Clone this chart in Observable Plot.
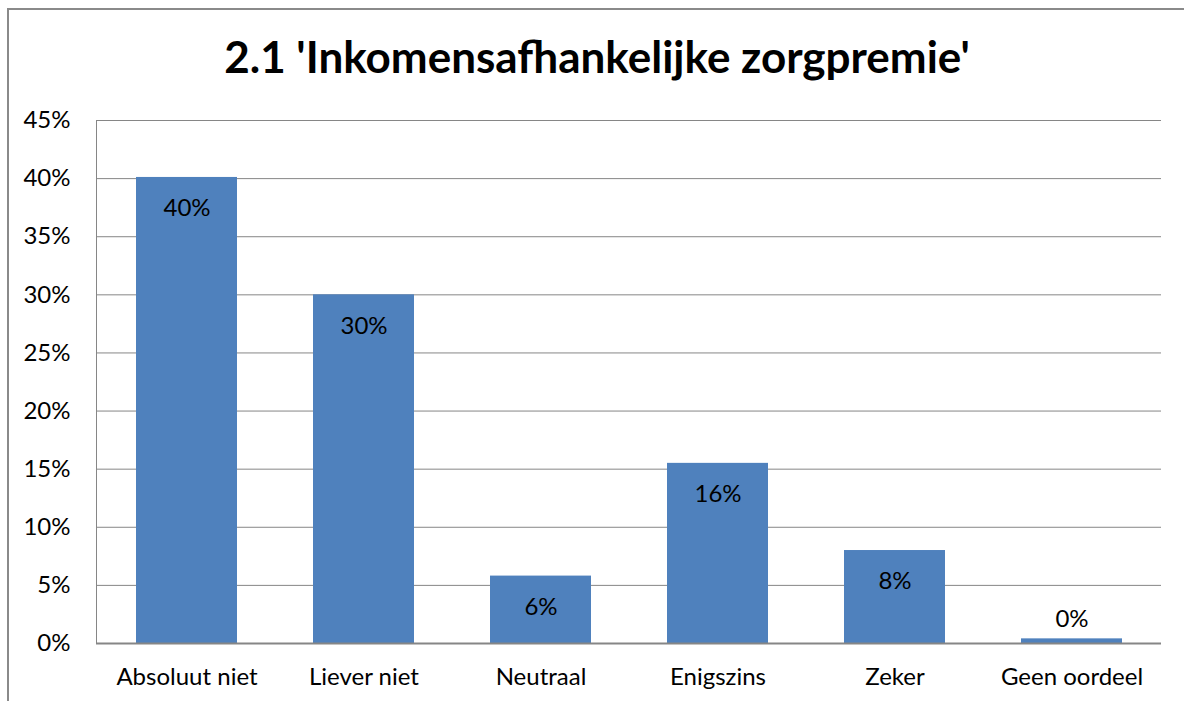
<!DOCTYPE html>
<html>
<head>
<meta charset="utf-8">
<script src="https://cdn.jsdelivr.net/npm/d3@7"></script>
<script src="https://cdn.jsdelivr.net/npm/@observablehq/plot@0.6"></script>
<style>
  html, body { margin: 0; padding: 0; background: #fff; overflow: hidden; width: 1184px; height: 701px; }
  #frame { position: absolute; left: 7px; top: 8px; width: 1200px; height: 720px; border: 2px solid #8a8a8a; box-sizing: border-box; }
  #title { position: absolute; left: 0; top: 34px; width: 1194px; text-align: center; font-family: Lato, "Liberation Sans", sans-serif; font-weight: bold; font-size: 44px; color: #000; line-height: 1; }
  #chart { position: absolute; left: 0; top: 100px; }
</style>
</head>
<body>
<div id="frame"></div>
<div id="title">2.1 'Inkomensafhankelijke zorgpremie'</div>
<div id="chart"></div>
<script>
const categories = ["Absoluut niet", "Liever niet", "Neutraal", "Enigszins", "Zeker", "Geen oordeel"];
const values = [40.1, 30.0, 5.8, 15.5, 8.0, 0.4];
const valueLabels = ["40%", "30%", "6%", "16%", "8%", "0%"];
const yTicks = [0, 5, 10, 15, 20, 25, 30, 35, 40, 45];

const data = categories.map((c, i) => ({category: c, value: values[i], label: valueLabels[i]}));
const font = "Lato, 'Liberation Sans', sans-serif";

const chart = Plot.plot({
  width: 1184,
  height: 600,
  marginLeft: 96,
  marginRight: 23,
  marginTop: 20,
  marginBottom: 57,
  style: {fontFamily: font, fontSize: "24px", color: "#000", background: "transparent"},
  x: {domain: categories, paddingInner: 0.43, paddingOuter: 0.215, label: null, tickSize: 0, tickPadding: 24},
  y: {domain: [0, 45], ticks: yTicks, tickFormat: d => d + "%", label: null, tickSize: 0, tickPadding: 26},
  marks: [
    Plot.gridY(yTicks, {stroke: "#868686", strokeOpacity: 1, strokeWidth: 1}),
    Plot.barY(data, {x: "category", y: "value", fill: "#4F81BD"}),
    Plot.ruleY([0], {stroke: "#868686", strokeWidth: 2}),
    Plot.frame({anchor: "left", stroke: "#868686", strokeWidth: 1}),
    Plot.text(data.filter(d => d.value >= 3), {x: "category", y: "value", text: "label", dy: 31, fill: "#000", fontSize: 24, lineAnchor: "middle"}),
    Plot.text(data.filter(d => d.value < 3), {x: "category", y: "value", text: "label", dy: -20, fill: "#000", fontSize: 24, lineAnchor: "middle"})
  ]
});
document.getElementById("chart").appendChild(chart);
</script>
</body>
</html>
